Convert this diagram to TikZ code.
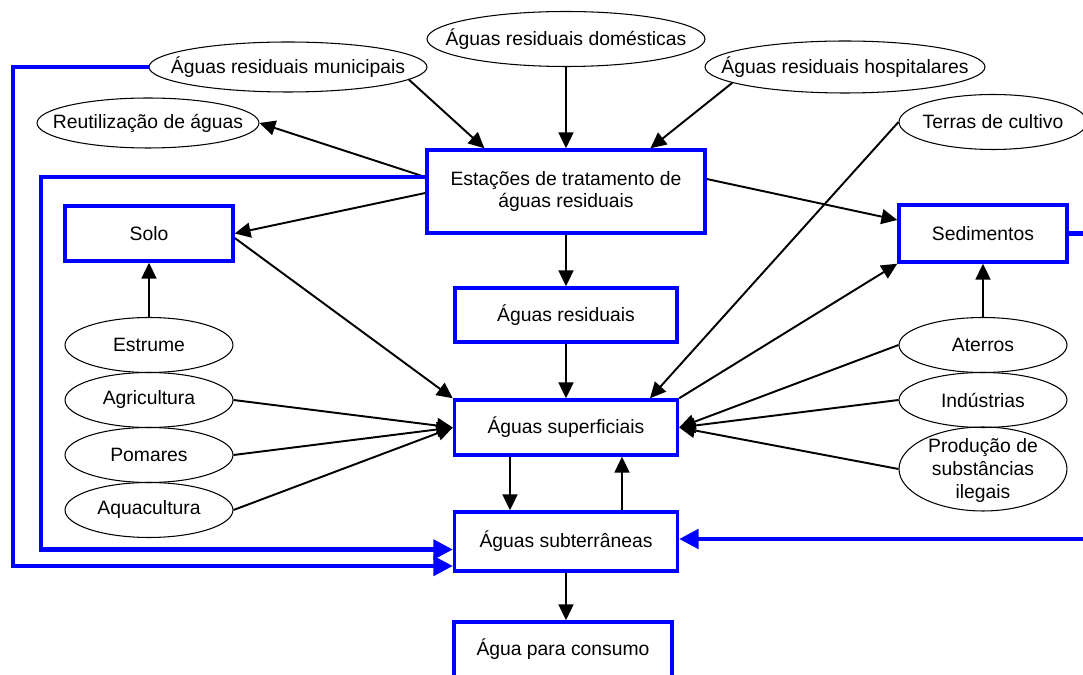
\documentclass[tikz,border=0pt]{standalone}
\usepackage{fontspec}
\setmainfont{Liberation Sans}
\usetikzlibrary{arrows.meta, shapes.geometric, calc}
\newcommand{\ovl}[1]{\makebox[0pt]{#1}}

\begin{document}
\begin{tikzpicture}[x=0.02cm, y=-0.02cm, >={Triangle[length=9pt, width=8.5pt]},
    font=\fontsize{11}{13}\selectfont,
    box/.style={draw=blue, line width=2pt, inner sep=0pt, align=center},
    oval/.style={ellipse, draw, line width=0.6pt, inner sep=0pt, minimum width=3.36cm, minimum height=1.1cm},
    link/.style={->, line width=1.1pt},
    feed/.style={draw=blue, line width=2.3pt, -{Triangle[length=11pt, width=11pt]}}]
  \path[use as bounding box, clip] (0,0) rectangle (1083,675);

  % compartments
  \node[box, minimum width=5.56cm, minimum height=1.66cm] (etar) at (566,191.5) {Estações de tratamento de\\águas residuais};
  \node[box, minimum width=3.36cm, minimum height=1.1cm] (solo) at (149,233.5) {Solo};
  \node[box, minimum width=4.44cm, minimum height=1.08cm] (agres) at (566,315) {Águas residuais};
  \node[box, minimum width=4.46cm, minimum height=1.1cm] (asup) at (566,427.5) {Águas superficiais};
  \node[box, minimum width=4.46cm, minimum height=1.18cm] (asub) at (566,541.5) {Águas subterrâneas};
  \node[box, minimum width=4.36cm, minimum height=1.1cm] (cons) at (563,649.5) {Água para consumo};
  \node[box, minimum width=3.36cm, minimum height=1.14cm] (sed) at (983,233.5) {Sedimentos};

  % sources
  \node[oval, minimum width=5.56cm, minimum height=1.0cm] (muni) at (288,67) {\ovl{Águas residuais municipais}};
  \node[oval, minimum width=5.56cm] (dom) at (566,39) {\ovl{Águas residuais domésticas}};
  \node[oval, minimum width=5.6cm, minimum height=1.04cm] (hosp) at (845,67) {\ovl{Águas residuais hospitalares}};
  \node[oval, minimum width=4.44cm, minimum height=1.0cm] (reut) at (148,123) {\ovl{Reutilização de águas}};
  \node[oval, minimum width=3.76cm] (terras) at (993,122) {\ovl{Terras de cultivo}};
  \node[oval] (estr) at (149,345) {\ovl{Estrume}};
  \node[oval] (agri) at (149,400) {\ovl{Agricultura}};
  \node[oval] (pom) at (149,455) {\ovl{Pomares}};
  \node[oval] (aqua) at (149,510) {\ovl{Aquacultura}};
  \node[oval] (ater) at (983,345) {\ovl{Aterros}};
  \node[oval] (ind) at (983,400) {\ovl{Indústrias}};
  \node[oval, minimum height=1.68cm] (prod) at (983,469) {\ovl{\smash{\raisebox{-4pt}{\begin{tabular}{@{}c@{}}Produção de\\substâncias\\ilegais\end{tabular}}}}};

  % black links
  \draw[link] (muni.-6) -- ($(etar.north west)!0.21!(etar.north east)$);
  \draw[link] (dom.south) -- (etar.north);
  \draw[link] (hosp.-172) -- ($(etar.north west)!0.8!(etar.north east)$);
  \draw[link] ($(etar.west)+(0,-14.5)$) -- (reut.east);
  \draw[link] ($(etar.west)+(0,1.5)$) -- (solo.east);
  \draw[link] ($(etar.east)+(0,-12.5)$) -- ($(sed.west)+(0,-13.5)$);
  \draw[link] (etar.south) -- (agres.north);
  \draw[link] (agres.south) -- (asup.north);
  \draw[link] (estr.north) -- (solo.south);
  \draw[link] ($(solo.east)+(0,4.5)$) -- (asup.north west);
  \draw[link] (agri.east) -- (asup.west);
  \draw[link] (pom.east) -- (asup.west);
  \draw[link] (aqua.east) -- (asup.west);
  \draw[link] (terras.west) -- ($(asup.north)+(84,0)$);
  \draw[link] (ater.north) -- (sed.south);
  \draw[link] (ater.west) -- (asup.east);
  \draw[link] (ind.west) -- (asup.east);
  \draw[link] (prod.west) -- (asup.east);
  \draw[link] (asup.north east) -- (sed.south west);
  \draw[link] ($(asup.south)+(-56,0)$) -- ($(asub.north)+(-56,0)$);
  \draw[link] ($(asub.north)+(56,0)$) -- ($(asup.south)+(56,0)$);
  \draw[link] (asub.south) -- (asub.south |- cons.north);

  % blue feeds into groundwater
  \draw[feed] (muni.west) -- (13,67) |- ($(asub.west)+(0,24.5)$);
  \draw[feed] ($(etar.west)+(0,-14.5)$) -- (41,177) |- ($(asub.west)+(0,8)$);
  \draw[feed] (sed.east) -- (1110,233.5) |- ($(asub.east)+(0,-2.5)$);
\end{tikzpicture}
\end{document}
